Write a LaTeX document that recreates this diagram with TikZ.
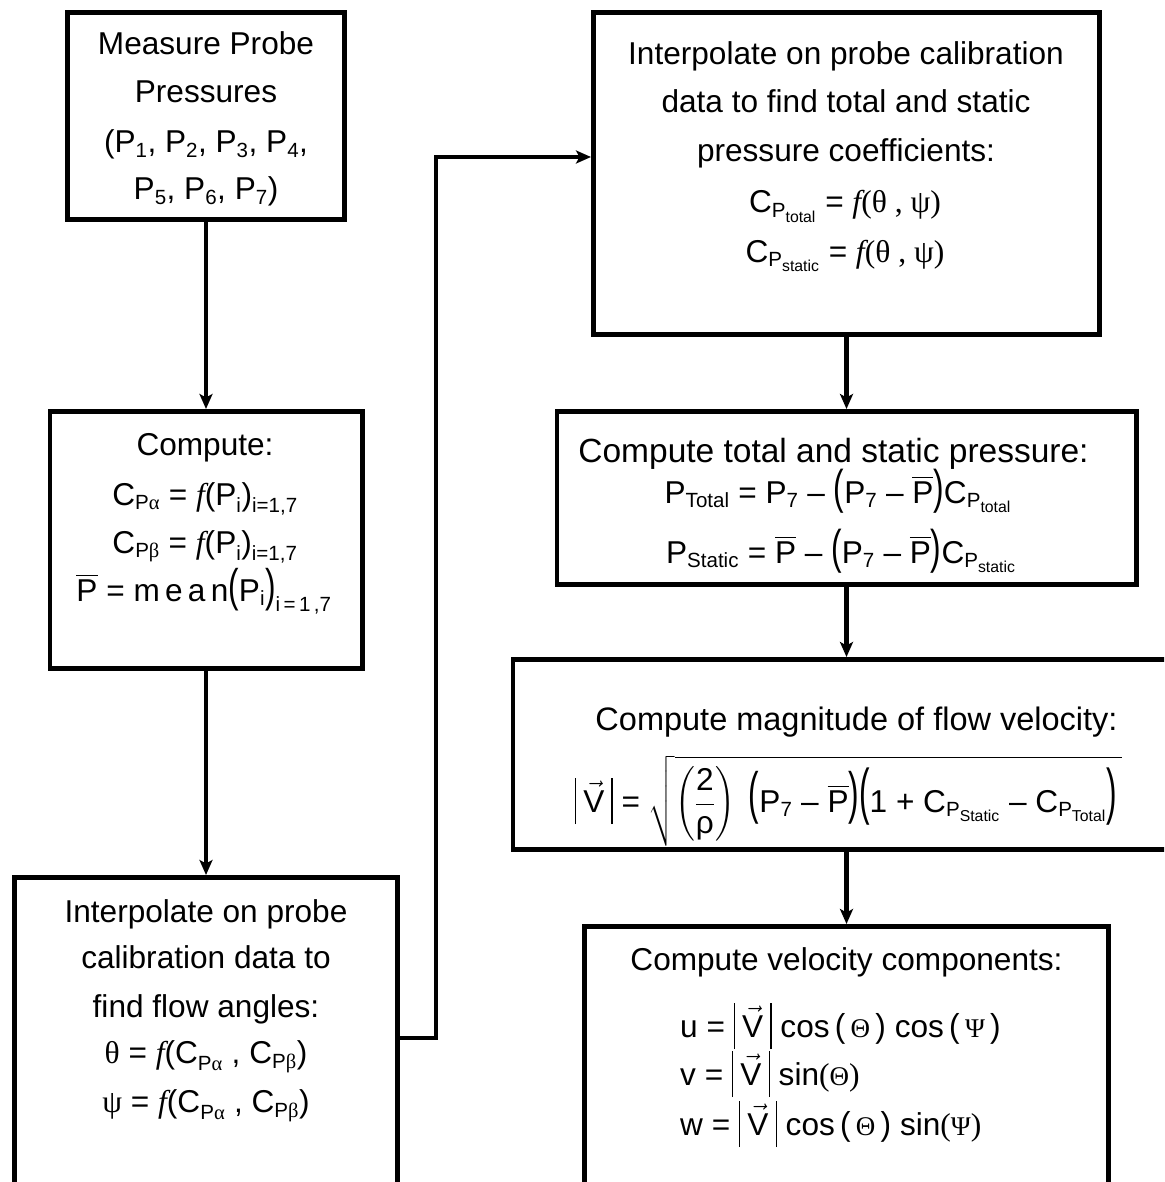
\RequirePackage{fix-cm}
\documentclass[tikz,border=0pt]{standalone}
\usepackage{amsmath}
\usepackage{graphicx}
\usepackage{fontspec}
\setmainfont{Liberation Sans}
\newfontfamily\grk{Liberation Serif}
\usetikzlibrary{arrows.meta}
\renewcommand\defaultscriptratio{.65}
\renewcommand\defaultscriptscriptratio{.5}
% slightly roomier spacing around binary operators
\medmuskip=5mu plus 2mu minus 2mu
\thickmuskip=5mu plus 3mu
% text pieces inside formulas
\newcommand\R[1]{\text{#1}}
\newcommand\gk[1]{\text{\grk #1}}
\newcommand\sgk[1]{\text{\fontsize{27pt}{30pt}\selectfont\grk #1}}
\newcommand\fn{\text{\grk\itshape f}}
\newcommand\eq{\mathrel{\R{=}}}
\newcommand\mn{\mathbin{\R{–}}}
\newcommand\pl{\mathbin{\R{+}}}
\newcommand\lo[1]{$_{\text{#1}}$}
% stretched sans parentheses
\newcommand\lp[2][0pt]{\mathopen{\raisebox{#1}{\scalebox{1}[#2]{(}}}}
\newcommand\rp[2][0pt]{\mathclose{\raisebox{#1}{\scalebox{1}[#2]{)}}}}
% thin bars around the velocity vector
\newcommand\vbar{\vrule width 1.4pt height 34pt depth 12pt}
\newcommand\Vabs{\mathopen{\vbar}\mskip4mu\vec{\R{V}}\mskip4mu\mathclose{\vbar}}
\newcommand\Pb{\overline{\R{P}}}
\begin{document}
\begin{tikzpicture}[x=1pt,y=-1pt,
  box/.style={draw,line width=4.8pt,inner sep=0pt},
  txt/.style={anchor=base,inner sep=0pt,font=\fontsize{31.6pt}{38pt}\selectfont},
  txtl/.style={txt,anchor=base west},
  conn/.style={line width=4.6pt,-{Stealth[length=15pt,width=13pt,inset=3.5pt]}}]
\useasboundingbox (0,0) rectangle (1164,1182);
\clip (0,0) rectangle (1164,1182);

% process boxes
\node[box,minimum width=277.2pt,minimum height=207.2pt] (b1) at (206,116) {};
\node[box,minimum width=312.2pt,minimum height=257.2pt] (b2) at (206,540) {};
\node[box,minimum width=383.2pt,minimum height=350.2pt] (b3) at (206,1052.5) {};
\node[box,minimum width=506.2pt,minimum height=322.2pt] (b4) at (846.5,173.5) {};
\node[box,minimum width=579.2pt,minimum height=173.2pt] (b5) at (846.5,498) {};
\node[box,minimum width=667.2pt,minimum height=190.2pt] (b6) at (846.5,754.5) {};
\node[box,minimum width=524.2pt,minimum height=301.2pt] (b7) at (846.5,1077) {};

% box 1
\node[txt] (m1) at (206,55) {Measure Probe};
\node[txt] (m2) at (206,103) {Pressures};
\node[txt] (m3) at (206,153) {(P\lo{1}, P\lo{2}, P\lo{3}, P\lo{4},};
\node[txt] (m4) at (206,200) {P\lo{5}, P\lo{6}, P\lo{7})};

% box 2
\node[txt] (c1) at (205,455) {Compute:};
\node[txt] (c2) at (205,505) {$\R{C}_{\R{P}\gk{α}} \eq \fn\R{(P}_{\R{i}}\R{)}_{\R{i=1,7}}$};
\node[txt] (c3) at (205,553) {$\R{C}_{\R{P}\gk{β}} \eq \fn\R{(P}_{\R{i}}\R{)}_{\R{i=1,7}}$};
\node[txt] (c4) at (204,601) {$\Pb \eq \R{m\,e\,a\,n}\lp{1.45}\R{P}_{\R{i}}\rp{1.45}_{\R{i\,=\,1\,,7}}$};

% box 3
\node[txt] (a1) at (206,922) {Interpolate on probe};
\node[txt] (a2) at (206,968) {calibration data to};
\node[txt] (a3) at (206,1017) {find flow angles:};
\node[txt] (a4) at (206,1063) {$\gk{θ} \eq \fn\R{(C}_{\R{P}\gk{α}}\R{ , C}_{\R{P}\gk{β}}\R{)}$};
\node[txt] (a5) at (206,1112) {$\gk{ψ} \eq \fn\R{(C}_{\R{P}\gk{α}}\R{ , C}_{\R{P}\gk{β}}\R{)}$};

% box 4
\node[txt] (i1) at (846,65) {Interpolate on probe calibration};
\node[txt] (i2) at (846,113) {data to find total and static};
\node[txt] (i3) at (846,162) {pressure coefficients:};
\node[txt] (i4) at (845,213) {$\R{C}_{\R{P}_{\R{total}}} \eq \fn\gk{(θ , ψ)}$};
\node[txt] (i5) at (845,262) {$\R{C}_{\R{P}_{\R{static}}} \eq \fn\gk{(θ , ψ)}$};

% box 5
\node[txt,font=\fontsize{33.5pt}{40pt}\selectfont] (p1) at (833.5,462) {Compute total and static pressure:};
\node[txt] (p2) at (838,503) {$\R{P}_{\R{Total}} \eq \R{P}_{\R{7}} \mn \lp{1.5}\R{P}_{\R{7}} \mn \Pb\rp{1.5}\R{C}_{\R{P}_{\R{total}}}$};
\node[txt] (p3) at (841,563) {$\R{P}_{\R{Static}} \eq \Pb \mn \lp{1.5}\R{P}_{\R{7}} \mn \Pb\rp{1.5}\R{C}_{\R{P}_{\R{static}}}$};

% box 6
\node[txt,font=\fontsize{32.5pt}{39pt}\selectfont] (v1) at (856.5,730) {Compute magnitude of flow velocity:};
\node[txt] (v2) at (848.5,812) {$\displaystyle \Vabs \eq \sqrt{\left(\frac{\R{2}}{\R{ρ}}\right)\;\lp{1.8}\R{P}_{\R{7}} \mn \Pb\rp{1.8}\lp{1.95}\R{1} \pl \R{C}_{\R{P}_{\R{Static}}} \mn \R{C}_{\R{P}_{\R{Total}}}\rp{1.95}\,}$};

% box 7
\node[txt] (w1) at (846.5,970) {Compute velocity components:};
\node[txtl] (w2) at (680,1037) {$\R{u} \eq \Vabs\;\R{cos}\,\lp{1.05}\,\sgk{Θ}\,\rp{1.05}\;\R{cos}\,\lp{1.05}\,\sgk{Ψ}\,\rp{1.05}$};
\node[txtl] (w3) at (680,1085) {$\R{v} \eq \Vabs\;\R{sin}\gk{(}\sgk{Θ}\gk{)}$};
\node[txtl] (w4) at (680,1135) {$\R{w} \eq \Vabs\;\R{cos}\,\lp{1.05}\,\sgk{Θ}\,\rp{1.05}\;\R{sin}\gk{(}\sgk{Ψ}\gk{)}$};

% connectors
\draw[conn] (b1.south) -- (b2.north);
\draw[conn] (b2.south) -- (b3.north);
\coordinate (k1) at (436,1038);
\coordinate (k2) at (436,157);
\draw[conn] (b3.east |- k1) -- (k1) -- (k2) -- (b4.west |- k2);
\draw[conn] (b4.south) -- (b5.north);
\draw[conn] (b5.south) -- (b6.north);
\draw[conn] (b6.south) -- (b7.north);
\end{tikzpicture}
\end{document}
